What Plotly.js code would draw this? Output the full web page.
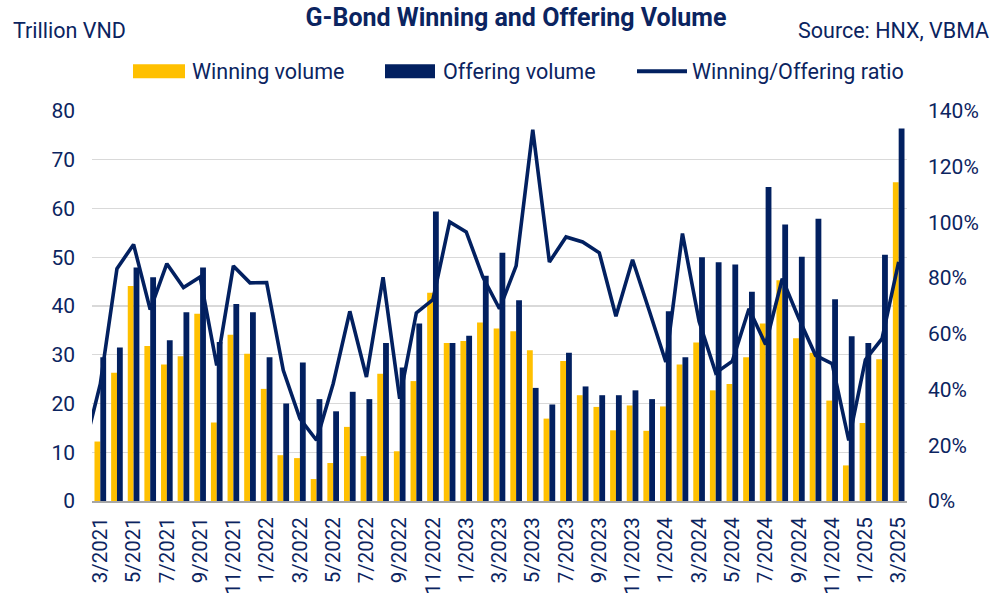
<!DOCTYPE html>
<html>
<head>
<meta charset="utf-8">
<script src="https://cdn.plot.ly/plotly-3.0.1.min.js"></script>
<style>
html,body{margin:0;padding:0;background:#fff;}
#chart{width:1004px;height:596px;}
</style>
</head>
<body>
<div id="chart"></div>
<script>
// Months (2/2021 only carries the ratio line that enters from the left edge)
const months = ["2/2021",
 "3/2021","4/2021","5/2021","6/2021","7/2021","8/2021","9/2021","10/2021","11/2021","12/2021",
 "1/2022","2/2022","3/2022","4/2022","5/2022","6/2022","7/2022","8/2022","9/2022","10/2022","11/2022","12/2022",
 "1/2023","2/2023","3/2023","4/2023","5/2023","6/2023","7/2023","8/2023","9/2023","10/2023","11/2023","12/2023",
 "1/2024","2/2024","3/2024","4/2024","5/2024","6/2024","7/2024","8/2024","9/2024","10/2024","11/2024","12/2024",
 "1/2025","2/2025","3/2025"];

// Trillion VND
const winningVolume = [null,
 12.2,26.3,44.1,31.8,28.0,29.7,38.4,16.1,34.1,30.2,
 23.0,9.4,8.8,4.5,7.8,15.2,9.2,26.1,10.2,24.6,42.7,32.4,
 32.8,36.6,35.4,34.8,30.9,16.9,28.7,21.7,19.3,14.5,19.6,14.4,
 19.4,28.0,32.5,22.7,24.0,29.5,36.4,45.3,33.4,30.4,20.6,7.3,
 16.0,29.1,65.4];

const offeringVolume = [null,
 29.5,31.5,47.9,45.9,33.0,38.7,47.9,32.6,40.4,38.7,
 29.5,20.0,28.4,20.9,18.4,22.4,20.9,32.4,27.4,36.4,59.4,32.4,
 33.9,46.2,50.9,41.2,23.2,19.8,30.4,23.5,21.7,21.7,22.7,20.9,
 38.9,29.5,50.0,49.0,48.5,42.9,64.4,56.7,50.1,57.9,41.4,33.8,
 32.4,50.5,76.4];

const ratio = [0.18,
 0.42,0.834,0.921,0.687,0.852,0.766,0.804,0.487,0.844,0.783,
 0.784,0.469,0.296,0.218,0.421,0.681,0.445,0.803,0.367,0.675,0.723,1.002,
 0.966,0.804,0.69,0.844,1.333,0.858,0.948,0.93,0.891,0.663,0.866,0.684,
 0.499,0.96,0.645,0.46,0.502,0.69,0.562,0.798,0.655,0.523,0.493,0.218,
 0.507,0.583,0.858];

const tickLabels = ["3/2021","5/2021","7/2021","9/2021","11/2021","1/2022","3/2022","5/2022","7/2022","9/2022",
 "11/2022","1/2023","3/2023","5/2023","7/2023","9/2023","11/2023","1/2024","3/2024","5/2024","7/2024",
 "9/2024","11/2024","1/2025","3/2025"];

const NAVY = "#022060";
const GOLD = "#FFC000";
const TXT = "#0b2460";

// plot area in pixels
const L = 92, R = 907, T = 110.7, B = 500.7;
const px = x => (x - L) / (R - L);
const py = y => (B - y) / (B - T);

const traces = [
 {type:"bar", name:"Winning volume", x:months, y:winningVolume, marker:{color:GOLD}, hoverinfo:"x+y"},
 {type:"bar", name:"Offering volume", x:months, y:offeringVolume, marker:{color:NAVY}, hoverinfo:"x+y"},
 {type:"scatter", mode:"lines", name:"Winning/Offering ratio", x:months, y:ratio, yaxis:"y2",
  line:{color:NAVY, width:3.6}, cliponaxis:true}
];

const font = {family:"Roboto, 'Liberation Sans', sans-serif", color:TXT};
const LBL = 21.5;

const layout = {
 width:1004, height:596,
 margin:{l:L, r:1004-R, t:T, b:596-B},
 paper_bgcolor:"#fff", plot_bgcolor:"#fff",
 showlegend:false,
 barmode:"group", bargap:0.3, bargroupgap:0,
 font:font,
 title:{text:"<b>G-Bond Winning and Offering Volume</b>", x:516/1004, xanchor:"center",
        y:1-17/596, yanchor:"middle", font:{family:"Roboto", size:25, color:TXT}},
 xaxis:{type:"category", categoryorder:"array", categoryarray:months,
        range:[0.5, months.length-0.5],
        tickmode:"array", tickvals:tickLabels, ticktext:tickLabels,
        tickangle:-90, tickfont:{family:"Roboto", size:20.5, color:TXT},
        showgrid:false, showline:true, linecolor:"#a6a6a6", linewidth:2, ticks:"",
        ticklabelstandoff:6, fixedrange:true},
 yaxis:{range:[0,80], dtick:10, tick0:0, showgrid:true, gridcolor:"#d9d9d9", gridwidth:1.3,
        zeroline:false, showline:false, ticks:"", tickfont:{family:"Roboto", size:21, color:TXT},
        ticklabelstandoff:16, fixedrange:true},
 yaxis2:{range:[0,1.4], dtick:0.2, tick0:0, tickformat:".0%", overlaying:"y", side:"right",
        showgrid:false, zeroline:false, showline:false, ticks:"",
        tickfont:{family:"Roboto", size:21, color:TXT}, ticklabelstandoff:20, fixedrange:true},
 shapes:[
  {type:"rect", xref:"paper", yref:"paper", x0:px(133), x1:px(185), y0:py(78), y1:py(64), fillcolor:GOLD, line:{width:0}},
  {type:"rect", xref:"paper", yref:"paper", x0:px(385), x1:px(435), y0:py(78), y1:py(64), fillcolor:NAVY, line:{width:0}},
  {type:"line", xref:"paper", yref:"paper", x0:px(637), x1:px(687), y0:py(71), y1:py(71), line:{color:NAVY, width:4}}
 ],
 annotations:[
  {text:"Trillion VND", xref:"paper", yref:"paper", x:px(11), y:py(30), xanchor:"left", yanchor:"middle",
   showarrow:false, font:{family:"Roboto", size:LBL, color:TXT}},
  {text:"Source: HNX, VBMA", xref:"paper", yref:"paper", x:px(991), y:py(30), xanchor:"right", yanchor:"middle",
   showarrow:false, font:{family:"Roboto", size:LBL, color:TXT}},
  {text:"Winning volume", xref:"paper", yref:"paper", x:px(190), y:py(71), xanchor:"left", yanchor:"middle",
   showarrow:false, font:{family:"Roboto", size:LBL, color:TXT}},
  {text:"Offering volume", xref:"paper", yref:"paper", x:px(441), y:py(71), xanchor:"left", yanchor:"middle",
   showarrow:false, font:{family:"Roboto", size:LBL, color:TXT}},
  {text:"Winning/Offering ratio", xref:"paper", yref:"paper", x:px(690), y:py(71), xanchor:"left", yanchor:"middle",
   showarrow:false, font:{family:"Roboto", size:LBL, color:TXT}}
 ]
};

Plotly.newPlot("chart", traces, layout, {displayModeBar:false, staticPlot:true});
</script>
</body>
</html>
